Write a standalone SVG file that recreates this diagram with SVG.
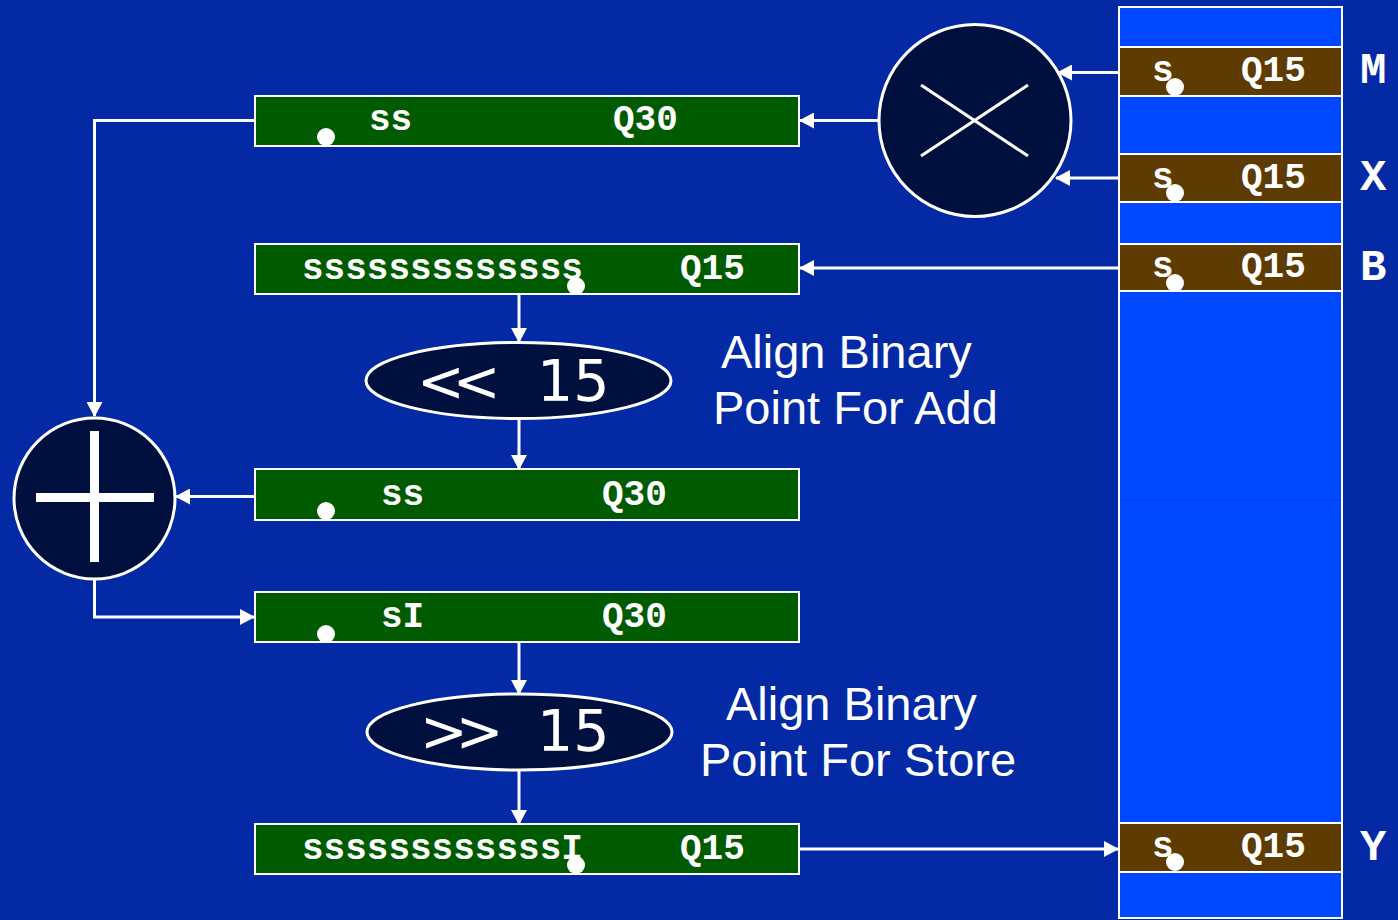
<svg xmlns="http://www.w3.org/2000/svg" width="1398" height="920" viewBox="0 0 1398 920">
<defs>
<style>
.bg{fill:#0329A4}
.reg{fill:#005A00;stroke:#fff;stroke-width:2}
.cell{fill:#0048FF;stroke:#fff;stroke-width:2}
.mem{fill:#5E3B00;stroke:#fff;stroke-width:2}
.op{fill:#00103E;stroke:#fff;stroke-width:3}
.mono{font-family:"Liberation Mono","Courier New",monospace;font-weight:bold;font-size:36px;fill:#fff}
.lbl{font-family:"Liberation Mono","Courier New",monospace;font-weight:bold;font-size:44px;fill:#fff}
.shift{font-family:"DejaVu Sans",sans-serif;font-size:57px;fill:#fff}
.note{font-family:"Liberation Sans",Arial,sans-serif;font-size:47px;fill:#fff}
.dot{fill:#fff}
.wire{fill:none;stroke:#fff;stroke-width:3}
</style>
<marker id="ah" markerUnits="userSpaceOnUse" markerWidth="15" markerHeight="16" refX="14" refY="8" orient="auto">
<path d="M0,0 L15,8 L0,16 z" fill="#fff"/>
</marker>
</defs>
<rect class="bg" x="0" y="0" width="1398" height="920"/>

<g id="memory">
<rect class="cell" x="1119" y="7" width="223" height="40"/>
<rect class="cell" x="1119" y="96" width="223" height="58"/>
<rect class="cell" x="1119" y="202" width="223" height="42"/>
<rect class="cell" x="1119" y="291" width="223" height="532"/>
<line x1="1120" y1="500" x2="1341" y2="500" stroke="#0536D4" stroke-width="1"/>
<rect class="cell" x="1119" y="872" width="223" height="46"/>
</g>
<g id="memM">
<rect class="mem" x="1119" y="47" width="223" height="49"/>
<text class="mono" x="1152" y="81">s</text>
<text class="mono" x="1241" y="81">Q15</text>
<circle class="dot" cx="1175" cy="87" r="9"/>
<text class="lbl" x="1360" y="83">M</text>
</g>
<g id="memX">
<rect class="mem" x="1119" y="154" width="223" height="48"/>
<text class="mono" x="1152" y="188">s</text>
<text class="mono" x="1241" y="188">Q15</text>
<circle class="dot" cx="1175" cy="193" r="9"/>
<text class="lbl" x="1360" y="190">X</text>
</g>
<g id="memB">
<rect class="mem" x="1119" y="244" width="223" height="47"/>
<text class="mono" x="1152" y="277">s</text>
<text class="mono" x="1241" y="277">Q15</text>
<circle class="dot" cx="1175" cy="283" r="9"/>
<text class="lbl" x="1360" y="280">B</text>
</g>
<g id="memY">
<rect class="mem" x="1119" y="823" width="223" height="49"/>
<text class="mono" x="1152" y="857">s</text>
<text class="mono" x="1241" y="857">Q15</text>
<circle class="dot" cx="1175" cy="862" r="9"/>
<text class="lbl" x="1360" y="860">Y</text>
</g>

<g id="mult">
<circle class="op" cx="975" cy="120.5" r="96"/>
<line x1="921" y1="85" x2="1028" y2="156" stroke="#fff" stroke-width="3"/>
<line x1="921" y1="156" x2="1028" y2="85" stroke="#fff" stroke-width="3"/>
</g>

<g id="add">
<circle class="op" cx="94.5" cy="498.5" r="80.5"/>
<rect x="90" y="431" width="9" height="131" fill="#fff"/>
<rect x="36" y="493" width="118" height="9" fill="#fff"/>
</g>

<g id="reg1">
<rect class="reg" x="255" y="96" width="544" height="50"/>
<text class="mono" x="369" y="130">ss</text>
<text class="mono" x="613" y="130">Q30</text>
<circle class="dot" cx="326" cy="137" r="9"/>
</g>
<g id="reg2">
<rect class="reg" x="255" y="244" width="544" height="50"/>
<text class="mono" x="302" y="279">sssssssssssss</text>
<text class="mono" x="680" y="279">Q15</text>
<circle class="dot" cx="576" cy="286" r="9"/>
</g>
<g id="shl">
<ellipse class="op" cx="518.5" cy="380.5" rx="152.5" ry="38"/>
<text class="shift" x="417" y="401"><tspan letter-spacing="-12">&lt;&lt;</tspan><tspan x="537">15</tspan></text>
</g>
<g id="noteAdd">
<text class="note" x="721" y="368">Align Binary</text>
<text class="note" x="713" y="424">Point For Add</text>
</g>
<g id="reg3">
<rect class="reg" x="255" y="469" width="544" height="51"/>
<text class="mono" x="381" y="505">ss</text>
<text class="mono" x="602" y="505">Q30</text>
<circle class="dot" cx="326" cy="511" r="9"/>
</g>
<g id="reg4">
<rect class="reg" x="255" y="592" width="544" height="50"/>
<text class="mono" x="381" y="627">sI</text>
<text class="mono" x="602" y="627">Q30</text>
<circle class="dot" cx="326" cy="634" r="9"/>
</g>
<g id="shr">
<ellipse class="op" cx="519.5" cy="732" rx="152.5" ry="38"/>
<text class="shift" x="420" y="751"><tspan letter-spacing="-12">&gt;&gt;</tspan><tspan x="537">15</tspan></text>
</g>
<g id="noteStore">
<text class="note" x="726" y="720">Align Binary</text>
<text class="note" x="700" y="776">Point For Store</text>
</g>
<g id="reg5">
<rect class="reg" x="255" y="824" width="544" height="50"/>
<text class="mono" x="302" y="859">ssssssssssssI</text>
<text class="mono" x="680" y="859">Q15</text>
<circle class="dot" cx="576" cy="865" r="9"/>
</g>

<g id="connectors">
<line class="wire" x1="1118" y1="72.5" x2="1058" y2="72.5" marker-end="url(#ah)"/>
<line class="wire" x1="1118" y1="178" x2="1056" y2="178" marker-end="url(#ah)"/>
<line class="wire" x1="878" y1="120.5" x2="800" y2="120.5" marker-end="url(#ah)"/>
<line class="wire" x1="1118" y1="268" x2="800" y2="268" marker-end="url(#ah)"/>
<polyline class="wire" points="255,120.5 94.5,120.5 94.5,416" marker-end="url(#ah)"/>
<line class="wire" x1="519" y1="295" x2="519" y2="342" marker-end="url(#ah)"/>
<line class="wire" x1="519" y1="419" x2="519" y2="469" marker-end="url(#ah)"/>
<line class="wire" x1="255" y1="496.5" x2="176" y2="496.5" marker-end="url(#ah)"/>
<polyline class="wire" points="94.5,580 94.5,617 254,617" marker-end="url(#ah)"/>
<line class="wire" x1="519" y1="643" x2="519" y2="694" marker-end="url(#ah)"/>
<line class="wire" x1="519" y1="770" x2="519" y2="824" marker-end="url(#ah)"/>
<line class="wire" x1="800" y1="849" x2="1118" y2="849" marker-end="url(#ah)"/>
</g>
</svg>
